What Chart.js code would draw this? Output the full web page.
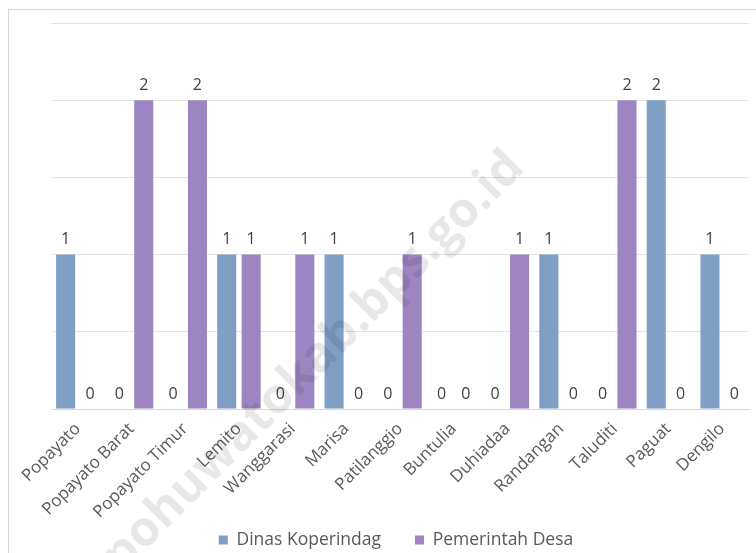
<!DOCTYPE html>
<html>
<head>
<meta charset="utf-8">
<script src="https://cdn.jsdelivr.net/npm/chart.js@4"></script>
<style>
html,body{margin:0;padding:0;background:#fff;}
#wrap{width:756px;height:553px;position:relative;}
</style>
</head>
<body>
<div id="wrap"><canvas id="c" width="756" height="553"></canvas></div>
<script>
const categories = ["Popayato","Popayato Barat","Popayato Timur","Lemito","Wanggarasi","Marisa","Patilanggio","Buntulia","Duhiadaa","Randangan","Taluditi","Paguat","Dengilo"];
const dinasKoperindag = [1,0,0,1,0,1,0,0,0,1,0,2,1];
const pemerintahDesa = [0,2,2,1,1,0,1,0,1,0,2,0,0];
const seriesNames = ["Dinas Koperindag","Pemerintah Desa"];
const watermarkText = "pohuwatokab.bps.go.id";

const FONT = "'Open Sans', sans-serif";
const PLOT_BOTTOM = 409;
const LEGEND_CENTER = 540;
const LEGEND_PAD = 34;
const LEGEND_FONT = 17.5;
const LEGEND_SHIFT = -4;

const framePlugin = {
  id: 'frame',
  beforeDraw(chart){
    const ctx = chart.ctx;
    ctx.save();
    ctx.fillStyle = '#fff';
    ctx.fillRect(0,0,chart.width,chart.height);
    ctx.strokeStyle = '#d9d9d9';
    ctx.lineWidth = 1;
    ctx.strokeRect(8.5, 9.5, chart.width, chart.height);
    ctx.restore();
    const lg = chart.legend;
    if (lg) {
      const h = lg.bottom - lg.top;
      const top = LEGEND_CENTER - LEGEND_FONT / 2 - LEGEND_PAD;
      lg.top = top;
      lg.bottom = top + h;
      lg.left = chart.chartArea.left + LEGEND_SHIFT;
      lg.right = chart.chartArea.right + LEGEND_SHIFT;
    }
    const xs = chart.scales.x;
    if (xs) { xs.bottom = chart.height; xs.height = xs.bottom - xs.top; }
  }
};

const valueLabels = {
  id: 'valueLabels',
  afterDatasetsDraw(chart){
    const ctx = chart.ctx;
    ctx.save();
    ctx.font = "16px " + FONT;
    ctx.fillStyle = '#404040';
    ctx.textAlign = 'center';
    ctx.textBaseline = 'middle';
    chart.data.datasets.forEach((ds, di) => {
      const meta = chart.getDatasetMeta(di);
      meta.data.forEach((el, i) => {
        ctx.fillText(String(ds.data[i]), el.x, el.y - 15);
      });
    });
    ctx.restore();
  }
};

const watermark = {
  id: 'watermark',
  afterDraw(chart){
    const ctx = chart.ctx;
    ctx.save();
    ctx.translate(314, 362);
    ctx.rotate(-45 * Math.PI / 180);
    ctx.font = "bold 49px " + FONT;
    ctx.fillStyle = 'rgba(0,0,0,0.09)';
    ctx.textAlign = 'center';
    ctx.textBaseline = 'middle';
    ctx.fillText(watermarkText, 0, 0);
    ctx.restore();
  }
};

new Chart(document.getElementById('c'), {
  type: 'bar',
  data: {
    labels: categories,
    datasets: [
      { label: seriesNames[0], data: dinasKoperindag, backgroundColor: '#7f9fc4', categoryPercentage: 0.91, barPercentage: 0.78 },
      { label: seriesNames[1], data: pemerintahDesa, backgroundColor: '#9c85c0', categoryPercentage: 0.91, barPercentage: 0.78 }
    ]
  },
  options: {
    responsive: false,
    animation: false,
    layout: { padding: { left: 51, right: 7, top: 23, bottom: 0 } },
    plugins: {
      legend: {
        position: 'bottom',
        labels: { boxWidth: 9, boxHeight: 9, color: '#595959', font: { size: LEGEND_FONT, family: FONT }, padding: LEGEND_PAD }
      },
      tooltip: { enabled: false }
    },
    scales: {
      x: {
        grid: { display: false },
        border: { display: true, color: '#d9d9d9' },
        ticks: { color: '#595959', font: { size: 17, family: FONT }, maxRotation: 45, minRotation: 45, padding: 2, autoSkip: false },
        afterFit(s){
          const lh = s.chart.legend ? s.chart.legend.height : 0;
          s.height = Math.max(10, 553 - PLOT_BOTTOM - lh);
        }
      },
      y: {
        min: 0, max: 2.5,
        ticks: { display: false, stepSize: 0.5 },
        grid: { color: '#e3e3e3', drawTicks: false },
        border: { display: false },
        afterFit(s){ s.width = 0; }
      }
    }
  },
  plugins: [framePlugin, valueLabels, watermark]
});
</script>
</body>
</html>
